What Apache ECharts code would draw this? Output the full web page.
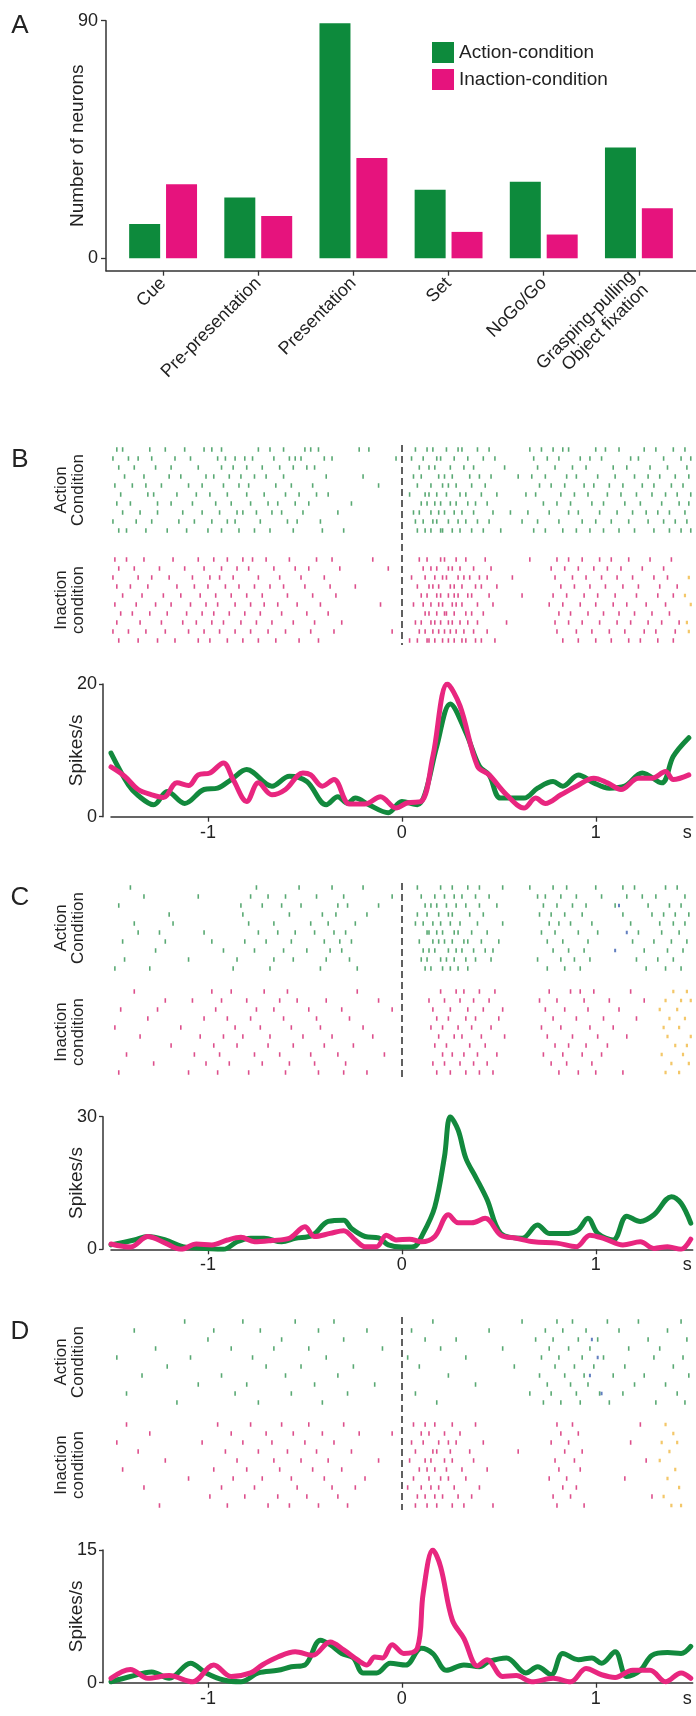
<!DOCTYPE html>
<html><head><meta charset="utf-8">
<script src="https://cdn.jsdelivr.net/npm/echarts@6/dist/echarts.min.js"></script>
<style>html,body{margin:0;padding:0;background:#fff}#c{width:696px;height:1716px}</style>
</head><body><div id="c"></div><script>
// ---------- DATA ----------
const categories = ['Cue','Pre-presentation','Presentation','Set','NoGo/Go','Grasping-pulling\nObject fixation'];
const actionCounts = [13,23,89,26,29,42];
const inactionCounts = [28,16,38,10,9,19];
const countTicks = [0,90];

const timeTicks = [-1,0,1];
const psthTicksB = [0,20], psthTicksC = [0,30], psthTicksD = [0,15];

const psthB_action = [[-1.50,9.6],[-1.41,4.8],[-1.36,3.2],[-1.28,1.8],[-1.21,3.8],[-1.12,2.0],[-1.02,4.1],[-0.95,4.3],[-0.88,5.6],[-0.80,7.1],[-0.67,4.6],[-0.58,6.1],[-0.49,5.3],[-0.39,1.8],[-0.33,3.0],[-0.28,2.0],[-0.24,2.8],[-0.17,1.8],[-0.07,0.6],[0.00,2.3],[0.08,1.8],[0.12,3.5],[0.18,10.6],[0.25,17.0],[0.33,12.7],[0.40,7.6],[0.45,6.3],[0.51,2.8],[0.63,2.8],[0.70,4.3],[0.78,5.3],[0.83,4.6],[0.91,6.3],[0.99,5.1],[1.07,4.3],[1.15,4.6],[1.24,6.6],[1.34,5.1],[1.40,9.1],[1.48,11.9]];
const psthB_inaction = [[-1.50,7.5],[-1.43,6.1],[-1.36,4.1],[-1.29,3.3],[-1.23,2.9],[-1.16,5.1],[-1.10,4.7],[-1.05,6.3],[-0.99,6.6],[-0.92,8.1],[-0.87,5.6],[-0.80,2.3],[-0.74,5.1],[-0.67,3.3],[-0.60,4.1],[-0.51,6.6],[-0.47,6.3],[-0.41,4.6],[-0.35,5.6],[-0.27,1.9],[-0.19,1.9],[-0.11,3.0],[-0.03,1.3],[0.03,2.1],[0.10,2.3],[0.16,9.1],[0.235,20.0],[0.30,16.7],[0.39,7.6],[0.45,6.3],[0.54,3.3],[0.63,1.3],[0.69,2.8],[0.74,2.0],[0.82,3.3],[0.90,4.6],[0.99,5.8],[1.06,5.1],[1.13,4.1],[1.22,5.8],[1.29,5.8],[1.36,6.8],[1.40,5.6],[1.48,6.3]];

const psthC_action = [[-1.50,1.0],[-1.38,2.1],[-1.31,2.9],[-1.22,2.1],[-1.13,0.6],[-1.01,0.2],[-0.92,0.0],[-0.85,1.7],[-0.78,2.5],[-0.71,2.5],[-0.62,1.7],[-0.55,2.5],[-0.46,3.2],[-0.38,6.3],[-0.30,6.6],[-0.26,4.7],[-0.19,2.9],[-0.12,2.6],[-0.07,1.0],[0.00,0.5],[0.06,0.6],[0.11,3.6],[0.17,9.6],[0.22,21.0],[0.25,30.0],[0.29,27.0],[0.33,20.6],[0.38,16.4],[0.44,11.2],[0.51,3.6],[0.62,2.5],[0.70,5.5],[0.76,3.6],[0.86,3.6],[0.91,4.4],[0.96,7.0],[1.01,3.6],[1.09,2.1],[1.16,7.5],[1.23,6.3],[1.30,7.8],[1.39,11.9],[1.44,10.4],[1.49,5.9]];
const psthC_inaction = [[-1.50,1.2],[-1.40,0.5],[-1.31,2.9],[-1.22,1.4],[-1.14,0.0],[-1.06,1.2],[-0.98,1.0],[-0.90,2.1],[-0.83,2.7],[-0.76,1.7],[-0.67,2.0],[-0.58,2.5],[-0.50,5.1],[-0.45,2.9],[-0.37,3.6],[-0.30,4.2],[-0.24,2.1],[-0.19,0.6],[-0.13,0.6],[-0.08,3.2],[-0.03,2.1],[0.04,2.3],[0.10,1.7],[0.17,2.9],[0.24,7.8],[0.29,6.0],[0.36,6.0],[0.43,7.0],[0.51,3.2],[0.59,2.5],[0.68,1.7],[0.80,1.4],[0.90,0.6],[0.97,3.2],[1.05,2.3],[1.14,1.0],[1.23,1.7],[1.30,0.2],[1.37,0.6],[1.44,0.0],[1.49,2.3]];

const psthD_action = [[-1.50,0.1],[-1.40,0.7],[-1.29,1.2],[-1.20,0.5],[-1.09,2.2],[-1.01,1.1],[-0.92,0.3],[-0.83,0.1],[-0.74,1.1],[-0.64,1.4],[-0.57,1.8],[-0.50,2.0],[-0.42,4.8],[-0.37,4.3],[-0.31,3.3],[-0.25,2.8],[-0.20,1.1],[-0.13,1.1],[-0.06,2.2],[0.02,2.0],[0.10,3.9],[0.16,3.3],[0.23,1.4],[0.32,2.0],[0.40,1.8],[0.45,2.4],[0.54,2.8],[0.64,1.1],[0.70,1.8],[0.77,0.9],[0.83,3.3],[0.91,2.6],[0.98,2.8],[1.03,2.2],[1.10,3.5],[1.16,0.7],[1.23,1.4],[1.29,3.1],[1.37,3.4],[1.44,3.3],[1.49,4.1]];
const psthD_inaction = [[-1.50,0.5],[-1.40,1.5],[-1.31,0.5],[-1.20,0.8],[-1.08,0.1],[-0.97,2.0],[-0.88,0.7],[-0.78,1.1],[-0.72,2.0],[-0.64,2.9],[-0.55,3.5],[-0.46,3.1],[-0.37,4.6],[-0.30,3.7],[-0.23,2.6],[-0.18,2.0],[-0.14,2.9],[-0.10,2.8],[-0.05,4.3],[0.01,3.3],[0.08,3.9],[0.11,10.1],[0.16,15.0],[0.20,13.1],[0.26,7.1],[0.32,5.0],[0.39,1.9],[0.44,2.6],[0.52,0.7],[0.59,0.8],[0.67,0.1],[0.78,0.5],[0.87,0.1],[0.95,1.6],[1.03,0.9],[1.10,0.6],[1.19,1.4],[1.28,1.4],[1.36,0.1],[1.44,1.1],[1.49,0.5]];

// raster spike times (s), one array per trial
const rasterB_action = [
[-1.47,-1.44,-1.30,-1.22,-1.12,-1.02,-0.98,-0.93,-0.74,-0.68,-0.61,-0.50,-0.47,-0.43,-0.22,-0.17,0.07,0.13,0.16,0.23,0.29,0.31,0.39,0.45,0.66,0.72,0.78,0.83,0.86,1.00,1.05,1.12,1.25,1.31,1.40,1.46],
[-1.49,-1.41,-1.36,-1.29,-1.17,-1.09,-0.95,-0.91,-0.86,-0.81,-0.77,-0.66,-0.58,-0.55,-0.52,-0.40,-0.36,-0.03,0.05,0.11,0.18,0.20,0.27,0.34,0.42,0.48,0.68,0.75,0.81,0.92,0.97,1.03,1.18,1.22,1.35,1.44,1.49],
[-1.46,-1.38,-1.27,-1.19,-1.05,-0.93,-0.87,-0.80,-0.72,-0.63,-0.56,-0.49,-0.45,0.09,0.14,0.17,0.25,0.32,0.37,0.53,0.70,0.79,0.88,0.95,1.09,1.16,1.28,1.37,1.47],
[-1.43,-1.33,-1.20,-1.14,-1.01,-0.97,-0.89,-0.83,-0.76,-0.70,-0.61,-0.39,-0.20,0.06,0.10,0.19,0.22,0.26,0.35,0.40,0.46,0.60,0.67,0.74,0.85,0.90,1.01,1.10,1.20,1.27,1.33,1.41,1.48],
[-1.48,-1.39,-1.32,-1.24,-1.10,-1.03,-0.92,-0.84,-0.79,-0.65,-0.57,-0.46,-0.12,0.08,0.15,0.21,0.24,0.28,0.36,0.43,0.71,0.77,0.84,0.94,0.99,1.07,1.14,1.24,1.30,1.39,1.45],
[-1.45,-1.31,-1.28,-1.16,-1.06,-0.99,-0.90,-0.80,-0.71,-0.60,-0.53,-0.44,-0.38,0.04,0.12,0.14,0.18,0.23,0.30,0.33,0.41,0.49,0.64,0.69,0.82,0.89,0.96,1.06,1.13,1.21,1.29,1.36,1.42,1.49],
[-1.47,-1.40,-1.26,-1.19,-1.08,-0.96,-0.88,-0.78,-0.69,-0.64,-0.55,-0.48,-0.26,0.10,0.13,0.17,0.20,0.25,0.28,0.34,0.38,0.44,0.73,0.80,0.87,0.98,1.04,1.15,1.23,1.34,1.43,1.48],
[-1.44,-1.35,-1.26,-1.13,-1.03,-0.94,-0.85,-0.82,-0.75,-0.67,-0.62,-0.51,-0.33,0.06,0.09,0.15,0.19,0.22,0.27,0.31,0.37,0.47,0.56,0.65,0.76,0.86,0.91,1.02,1.11,1.19,1.26,1.32,1.38,1.46],
[-1.49,-1.37,-1.29,-1.15,-1.07,-0.98,-0.90,-0.86,-0.73,-0.59,-0.54,-0.42,0.07,0.11,0.16,0.18,0.24,0.29,0.33,0.39,0.45,0.62,0.70,0.81,0.93,1.00,1.08,1.17,1.27,1.35,1.41,1.47],
[-1.46,-1.42,-1.32,-1.21,-1.11,-1.00,-0.93,-0.84,-0.76,-0.68,-0.56,-0.41,-0.30,0.08,0.12,0.15,0.20,0.21,0.26,0.30,0.36,0.42,0.51,0.68,0.74,0.83,0.90,0.97,1.04,1.12,1.20,1.30,1.38,1.44,1.49]];
const rasterB_inaction = [
[-1.48,-1.42,-1.33,-1.18,-1.05,-0.97,-0.90,-0.82,-0.77,-0.70,-0.58,-0.44,-0.36,-0.15,0.09,0.13,0.20,0.22,0.28,0.33,0.43,0.66,0.80,0.86,0.93,1.02,1.08,1.17,1.28,1.39],
[-1.46,-1.38,-1.25,-1.12,-1.02,-0.93,-0.85,-0.79,-0.66,-0.55,-0.48,-0.32,-0.07,0.11,0.15,0.18,0.24,0.26,0.30,0.37,0.46,0.77,0.84,0.91,0.99,1.06,1.13,1.24,1.35],
[-1.49,-1.36,-1.29,-1.20,-1.08,-0.99,-0.94,-0.87,-0.74,-0.63,-0.52,-0.40,0.05,0.12,0.17,0.21,0.23,0.29,0.32,0.35,0.40,0.44,0.57,0.79,0.88,0.95,1.03,1.11,1.19,1.30,1.37],
[-1.47,-1.40,-1.31,-1.16,-1.07,-1.00,-0.91,-0.84,-0.76,-0.68,-0.61,-0.50,-0.37,-0.24,0.08,0.14,0.16,0.19,0.25,0.27,0.31,0.38,0.41,0.49,0.82,0.89,0.97,1.05,1.14,1.22,1.33,1.42],
[-1.44,-1.34,-1.23,-1.14,-1.04,-0.96,-0.88,-0.80,-0.72,-0.59,-0.46,-0.34,0.10,0.13,0.18,0.20,0.24,0.27,0.29,0.34,0.36,0.45,0.62,0.78,0.85,0.94,1.01,1.10,1.21,1.32,1.40],
[-1.48,-1.37,-1.27,-1.19,-1.09,-1.01,-0.95,-0.86,-0.78,-0.71,-0.64,-0.54,-0.42,-0.11,0.06,0.11,0.15,0.19,0.21,0.26,0.28,0.31,0.39,0.47,0.76,0.83,0.92,1.00,1.09,1.16,1.26,1.36],
[-1.45,-1.39,-1.30,-1.21,-1.11,-1.03,-0.97,-0.89,-0.81,-0.73,-0.62,-0.49,-0.38,0.12,0.14,0.18,0.22,0.23,0.27,0.33,0.36,0.42,0.81,0.87,0.96,1.04,1.12,1.20,1.29,1.38],
[-1.47,-1.35,-1.24,-1.13,-1.06,-0.98,-0.92,-0.83,-0.75,-0.67,-0.56,-0.45,-0.31,0.07,0.10,0.15,0.17,0.20,0.24,0.26,0.30,0.34,0.39,0.54,0.79,0.86,0.93,1.02,1.11,1.18,1.27,1.34,1.43],
[-1.49,-1.41,-1.32,-1.22,-1.10,-1.02,-0.94,-0.86,-0.78,-0.69,-0.60,-0.47,-0.35,-0.05,0.09,0.12,0.16,0.19,0.22,0.25,0.28,0.32,0.37,0.44,0.80,0.90,0.98,1.07,1.15,1.25,1.31,1.41],
[-1.46,-1.36,-1.26,-1.17,-1.05,-0.99,-0.90,-0.82,-0.74,-0.65,-0.53,-0.43,0.04,0.08,0.13,0.14,0.17,0.21,0.24,0.27,0.31,0.33,0.38,0.41,0.48,0.83,0.91,1.00,1.08,1.17,1.23,1.32,1.40]];
const markersB_orange = [[1.48,2],[1.46,4],[1.49,5],[1.47,7],[1.48,8]];
const markersB_blue = [];

const rasterC_action = [
[-1.40,-0.75,-0.53,-0.36,-0.20,0.08,0.20,0.26,0.34,0.40,0.52,0.66,0.78,0.85,1.00,1.14,1.20,1.36,1.42],
[-1.33,-1.05,-0.78,-0.69,-0.60,-0.44,-0.30,-0.05,0.10,0.17,0.22,0.27,0.31,0.38,0.45,0.70,0.74,0.82,0.90,1.03,1.16,1.24,1.31,1.46],
[-1.46,-0.83,-0.72,-0.62,-0.52,-0.33,-0.28,-0.12,0.12,0.15,0.18,0.23,0.28,0.33,0.40,0.49,0.73,0.80,0.88,0.95,1.10,1.27,1.38,1.44],
[-1.20,-0.82,-0.58,-0.41,-0.34,-0.18,0.08,0.13,0.19,0.24,0.26,0.35,0.42,0.71,0.77,0.84,0.93,1.14,1.29,1.35,1.41,1.48],
[-1.38,-1.18,-0.79,-0.66,-0.47,-0.38,-0.24,0.07,0.11,0.16,0.20,0.25,0.30,0.39,0.52,0.76,0.81,0.87,0.98,1.18,1.33,1.40,1.46],
[-1.36,-1.25,-1.02,-0.74,-0.64,-0.55,-0.45,-0.35,-0.29,0.13,0.14,0.18,0.21,0.27,0.29,0.36,0.44,0.72,0.79,0.91,1.01,1.22,1.34,1.43],
[-1.44,-1.22,-0.98,-0.81,-0.70,-0.57,-0.40,-0.32,-0.26,0.09,0.16,0.19,0.22,0.26,0.32,0.34,0.41,0.50,0.75,0.83,0.96,1.19,1.30,1.39,1.47],
[-1.27,-0.92,-0.76,-0.61,-0.49,-0.37,-0.31,0.11,0.14,0.17,0.24,0.28,0.31,0.37,0.43,0.47,0.78,0.86,0.94,1.25,1.37,1.45],
[-1.43,-1.10,-0.85,-0.66,-0.56,-0.39,-0.27,0.10,0.13,0.20,0.23,0.27,0.33,0.38,0.46,0.70,0.82,0.89,0.97,1.21,1.32,1.40],
[-1.48,-1.30,-0.87,-0.68,-0.42,-0.23,0.12,0.15,0.21,0.25,0.29,0.34,0.75,0.84,0.92,1.26,1.36,1.44]];
const rasterC_inaction = [
[-1.38,-0.98,-0.88,-0.71,-0.59,-0.23,0.20,0.28,0.32,0.40,0.48,0.76,0.87,0.92,0.99,1.18],
[-1.22,-1.08,-0.93,-0.80,-0.63,-0.54,-0.39,-0.12,0.14,0.22,0.30,0.37,0.45,0.71,0.80,0.94,1.07,1.25],
[-1.45,-1.26,-0.96,-0.75,-0.66,-0.48,-0.31,-0.05,0.16,0.25,0.34,0.42,0.52,0.74,0.84,0.96,1.12],
[-1.31,-1.02,-0.90,-0.78,-0.61,-0.44,-0.27,0.18,0.24,0.33,0.38,0.50,0.78,0.90,1.04,1.21],
[-1.48,-1.14,-0.86,-0.73,-0.57,-0.42,-0.20,0.15,0.21,0.29,0.36,0.46,0.72,0.82,0.97,1.09],
[-1.35,-1.04,-0.92,-0.82,-0.68,-0.51,-0.36,-0.15,0.19,0.27,0.31,0.41,0.53,0.75,0.88,1.01,1.16],
[-1.19,-0.97,-0.85,-0.69,-0.56,-0.40,-0.25,0.17,0.23,0.35,0.43,0.79,0.86,0.95,1.06],
[-1.42,-1.07,-0.94,-0.76,-0.63,-0.47,-0.33,-0.09,0.21,0.26,0.32,0.39,0.49,0.73,0.83,0.93,1.03],
[-1.28,-1.01,-0.89,-0.72,-0.58,-0.45,-0.29,0.16,0.22,0.30,0.37,0.44,0.77,0.85,0.98],
[-1.46,-1.10,-0.95,-0.79,-0.60,-0.43,-0.30,-0.18,0.18,0.25,0.33,0.40,0.47,0.81,0.91,1.00,1.14]];
const markersC_orange = [[1.40,0],[1.47,0],[1.36,1],[1.44,1],[1.49,1],[1.33,2],[1.42,2],[1.38,3],[1.46,3],[1.35,4],[1.43,4],[1.49,5],[1.37,5],[1.41,6],[1.47,6],[1.34,7],[1.45,7],[1.39,8],[1.48,8],[1.36,9],[1.43,9]];
const markersC_blue = [[1.12,2],[1.16,5],[1.10,7]];

const rasterD_action = [
[-1.12,-0.82,-0.55,-0.35,0.16,0.62,0.80,0.88,1.06,1.22,1.44],
[-1.38,-0.97,-0.73,-0.43,-0.18,0.05,0.45,0.74,0.83,0.95,1.12,1.37],
[-1.00,-0.62,-0.30,0.12,0.28,0.69,0.78,0.91,1.01,1.27,1.47],
[-1.27,-0.88,-0.66,-0.48,-0.10,0.20,0.52,0.76,0.86,0.97,1.17,1.33],
[-1.47,-1.09,-0.77,-0.39,0.03,0.33,0.72,0.81,0.93,1.04,1.30,1.45],
[-1.21,-0.70,-0.52,-0.25,0.09,0.58,0.79,0.89,0.99,1.15,1.40],
[-1.34,-0.93,-0.60,-0.33,0.24,0.71,0.84,0.94,1.09,1.25,1.48],
[-1.05,-0.80,-0.45,-0.14,0.38,0.75,0.87,0.96,1.20,1.36],
[-1.42,-0.86,-0.57,-0.28,0.07,0.66,0.77,0.90,1.02,1.14,1.42],
[-1.16,-0.74,-0.41,0.18,0.73,0.82,0.92,1.07,1.31,1.46]];
const rasterD_inaction = [
[-1.42,-0.95,-0.78,-0.62,-0.48,-0.30,0.06,0.12,0.17,0.26,0.38,0.80,0.88,1.23],
[-1.30,-0.88,-0.70,-0.56,-0.41,-0.22,-0.05,0.10,0.14,0.22,0.30,0.82,0.91],
[-1.47,-1.03,-0.82,-0.67,-0.50,-0.35,0.05,0.11,0.19,0.24,0.28,0.42,0.77,0.86,1.18],
[-1.36,-0.91,-0.74,-0.59,-0.44,-0.26,0.07,0.16,0.18,0.25,0.35,0.60,0.84,0.93],
[-1.22,-0.85,-0.66,-0.52,-0.38,-0.12,0.04,0.12,0.15,0.22,0.26,0.37,0.79,0.89,1.26],
[-1.44,-0.97,-0.80,-0.63,-0.46,-0.31,0.09,0.13,0.17,0.23,0.31,0.44,0.81,0.92],
[-1.10,-0.87,-0.72,-0.57,-0.40,-0.19,0.06,0.14,0.20,0.24,0.33,0.76,0.85,1.15],
[-1.33,-0.93,-0.76,-0.54,-0.36,-0.24,0.03,0.10,0.15,0.19,0.27,0.40,0.83,0.90],
[-0.99,-0.81,-0.64,-0.49,-0.33,0.08,0.12,0.17,0.21,0.29,0.36,0.78,0.87,1.29],
[-1.25,-0.90,-0.69,-0.58,-0.43,-0.28,0.07,0.13,0.18,0.26,0.32,0.47,0.80,0.94]];
const markersD_orange = [[1.36,0],[1.40,1],[1.34,2],[1.42,2],[1.38,3],[1.33,4],[1.41,5],[1.37,6],[1.43,7],[1.35,8],[1.39,9],[1.44,9]];
const markersD_blue = [[0.98,2],[1.01,4],[0.97,6],[1.03,8]];

// ---------- STYLE / LAYOUT ----------
const FONT = '"Liberation Sans", Arial, sans-serif';
const TXT = '#222';
const AX = '#333';
const BAR_G = '#0d8a3c', BAR_P = '#e6137d';
const LINE_G = '#12893d', LINE_P = '#e8267f';
const SPK_G = '#2f9450', SPK_P = '#d4236f';
const ORANGE = '#f0b944', BLUE = '#3b5fb0';
const ROW_PX = 9;
const PX_LEFT = 111, PX_W = 581.7;

const panels = [
  {letter:'B', rTop:445, rH:200, pTop:684, pH:132.7, ticks:psthTicksB, act:rasterB_action, inact:rasterB_inaction, orange:markersB_orange, blue:markersB_blue, la:psthB_action, li:psthB_inaction},
  {letter:'C', rTop:883, rH:194, pTop:1116.7, pH:132.6, ticks:psthTicksC, act:rasterC_action, inact:rasterC_inaction, orange:markersC_orange, blue:markersC_blue, la:psthC_action, li:psthC_inaction},
  {letter:'D', rTop:1317, rH:193, pTop:1550, pH:132.7, ticks:psthTicksD, act:rasterD_action, inact:rasterD_inaction, orange:markersD_orange, blue:markersD_blue, la:psthD_action, li:psthD_inaction}
];

const grid = [{left:106, top:20.7, width:590, height:250, outerBoundsMode:'none'}];
const xAxis = [{
  type:'value', gridIndex:0, min:-0.6, max:5.6,
  axisLine:{show:true, onZero:false, lineStyle:{color:AX, width:1.5}},
  splitLine:{show:false},
  axisTick:{show:true, customValues:categories.map((c,i)=>i), length:5, lineStyle:{color:AX, width:1.3}},
  axisLabel:{show:true, customValues:categories.map((c,i)=>i), rotate:45, margin:10, hideOverlap:false,
    formatter:v=>categories[Math.round(v)], fontSize:18, lineHeight:19, color:TXT, fontFamily:FONT}
}];
const yAxis = [{
  type:'value', gridIndex:0, min:-4.7, max:90,
  name:'Number of neurons', nameLocation:'middle', nameGap:19, nameMoveOverlap:false,
  nameTextStyle:{fontSize:19, color:TXT, fontFamily:FONT},
  axisLine:{show:true, onZero:false, lineStyle:{color:AX, width:1.5}},
  splitLine:{show:false},
  axisTick:{show:true, customValues:countTicks, length:5, lineStyle:{color:AX, width:1.3}},
  axisLabel:{show:true, customValues:countTicks, margin:8, fontSize:18, color:TXT, fontFamily:FONT}
}];
const series = [
  {type:'bar', name:'Action-condition', xAxisIndex:0, yAxisIndex:0, barWidth:31, barGap:'19%',
   itemStyle:{color:BAR_G}, data:actionCounts.map((v,i)=>[i,v])},
  {type:'bar', name:'Inaction-condition', xAxisIndex:0, yAxisIndex:0, barWidth:31, barGap:'19%',
   itemStyle:{color:BAR_P}, data:inactionCounts.map((v,i)=>[i,v])}
];
const graphic = [
  {type:'text', x:20, y:26, style:{text:'A', fontSize:26, fontFamily:FONT, fill:TXT, align:'center', verticalAlign:'middle'}}
];

function rasterPts(rows, off){
  const pts=[]; rows.forEach((r,k)=>r.forEach(t=>pts.push([t, off+k+0.5]))); return pts;
}
function markPts(list, off){ return list.map(m=>[m[0], off+m[1]+0.5]); }

panels.forEach(p=>{
  const gR = grid.length;
  grid.push({left:PX_LEFT, top:p.rTop, width:PX_W, height:p.rH, outerBoundsMode:'none'});
  const yMax = p.rH/ROW_PX, inOff = yMax - 10;
  xAxis.push({type:'value', gridIndex:gR, min:-1.5, max:1.5, show:false});
  yAxis.push({type:'value', gridIndex:gR, min:0, max:yMax, inverse:true, show:false});
  series.push({type:'scatter', xAxisIndex:gR, yAxisIndex:gR, symbol:'rect', symbolSize:[1.6,4.5],
    itemStyle:{color:SPK_G}, silent:true, data:rasterPts(p.act, 0),
    markLine:{silent:true, symbol:['none','none'], label:{show:false},
      lineStyle:{type:[7,4], color:'#606060', width:2}, data:[{xAxis:0}]}});
  series.push({type:'scatter', xAxisIndex:gR, yAxisIndex:gR, symbol:'rect', symbolSize:[1.6,4.5],
    itemStyle:{color:SPK_P}, silent:true, data:rasterPts(p.inact, inOff)});
  series.push({type:'scatter', xAxisIndex:gR, yAxisIndex:gR, symbol:'rect', symbolSize:[2.2,3.5],
    itemStyle:{color:ORANGE}, silent:true, data:markPts(p.orange, inOff)});
  series.push({type:'scatter', xAxisIndex:gR, yAxisIndex:gR, symbol:'rect', symbolSize:[2,3.5],
    itemStyle:{color:BLUE}, silent:true, data:markPts(p.blue, 0)});

  const gP = grid.length;
  grid.push({left:PX_LEFT, top:p.pTop, width:PX_W, height:p.pH, outerBoundsMode:'none'});
  xAxis.push({type:'value', gridIndex:gP, min:-1.5, max:1.5,
    name:'s', nameLocation:'end', nameGap:-1, nameMoveOverlap:false,
    nameTextStyle:{fontSize:18, color:TXT, fontFamily:FONT, align:'right', verticalAlign:'top', padding:[7,0,0,0]},
    axisLine:{show:true, onZero:false, lineStyle:{color:AX, width:1.5}},
    splitLine:{show:false},
    axisTick:{show:true, customValues:timeTicks, length:5, lineStyle:{color:AX, width:1.3}},
    axisLabel:{show:true, customValues:timeTicks, margin:7, fontSize:18, color:TXT, fontFamily:FONT, formatter:v=>String(v)}});
  yAxis.push({type:'value', gridIndex:gP, min:p.ticks[0], max:p.ticks[1], offset:8,
    name:'Spikes/s', nameLocation:'middle', nameGap:17, nameMoveOverlap:false,
    nameTextStyle:{fontSize:19, color:TXT, fontFamily:FONT},
    axisLine:{show:true, onZero:false, lineStyle:{color:AX, width:1.5}},
    splitLine:{show:false},
    axisTick:{show:true, customValues:p.ticks, length:4, lineStyle:{color:AX, width:1.3}},
    axisLabel:{show:true, customValues:p.ticks, margin:6, fontSize:18, color:TXT, fontFamily:FONT}});
  series.push({type:'line', xAxisIndex:gP, yAxisIndex:gP, data:p.la, smooth:0.35, symbol:'none',
    lineStyle:{color:LINE_G, width:5, cap:'round', join:'round'}, silent:true});
  series.push({type:'line', xAxisIndex:gP, yAxisIndex:gP, data:p.li, smooth:0.35, symbol:'none',
    lineStyle:{color:LINE_P, width:5, cap:'round', join:'round'}, silent:true});

  const aMid = p.rTop + 5*ROW_PX, iMid = p.rTop + p.rH - 5*ROW_PX;
  graphic.push({type:'text', x:20, y:p.rTop + 15, style:{text:p.letter, fontSize:26, fontFamily:FONT, fill:TXT, align:'center', verticalAlign:'middle'}});
  graphic.push({type:'text', x:70, y:aMid, rotation:Math.PI/2, style:{text:'Action\nCondition', fontSize:17, lineHeight:17, fontFamily:FONT, fill:TXT, align:'center', verticalAlign:'middle'}});
  graphic.push({type:'text', x:70, y:iMid, rotation:Math.PI/2, style:{text:'Inaction\ncondition', fontSize:17, lineHeight:17, fontFamily:FONT, fill:TXT, align:'center', verticalAlign:'middle'}});
});

const chart = echarts.init(document.getElementById('c'), null, {renderer:'canvas'});
chart.setOption({
  animation:false,
  backgroundColor:'#fff',
  textStyle:{fontFamily:FONT},
  legend:{data:['Action-condition','Inaction-condition'], orient:'vertical', left:432, top:42,
    itemWidth:22, itemHeight:21, itemGap:6, icon:'rect', padding:0,
    textStyle:{fontSize:19, color:TXT, fontFamily:FONT}},
  grid, xAxis, yAxis, series, graphic
});
</script></body></html>
